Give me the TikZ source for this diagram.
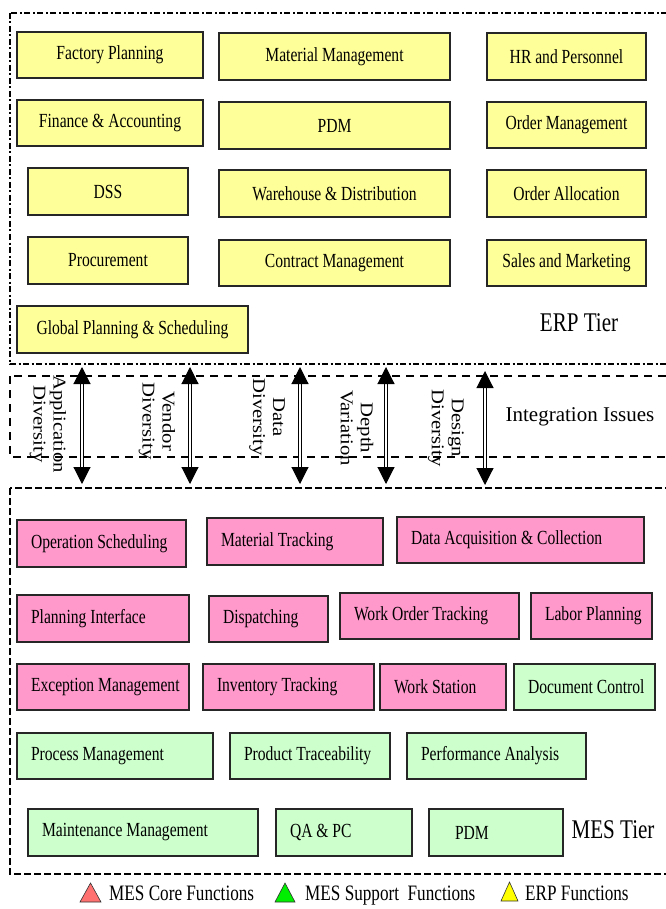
\documentclass[tikz,border=0pt]{standalone}
\usepackage{fontspec}
\setmainfont[FakeStretch=0.78]{Liberation Serif}
\newfontfamily\rotfont[FakeStretch=1.15]{Liberation Serif}
\newfontfamily\plainfont{Liberation Serif}
\usetikzlibrary{arrows.meta}
\definecolor{erpfill}{HTML}{FFFF99}
\definecolor{corefill}{HTML}{FF99CC}
\definecolor{supfill}{HTML}{CCFFCC}
\definecolor{redtri}{HTML}{FF7070}
\definecolor{greentri}{HTML}{00EE00}
\definecolor{yellowtri}{HTML}{FFFF00}
\tikzset{
  fbox/.style={draw=black!85, line width=1.2pt, inner sep=0pt, font=\fontsize{20}{24}\selectfont},
  erpbox/.style={fbox, fill=erpfill, align=center},
  corebox/.style={fbox, fill=corefill},
  supbox/.style={fbox, fill=supfill},
  erpframe/.style={line width=2.5pt, dash pattern=on 6pt off 2.5pt on 2pt off 2.5pt},
  intframe/.style={line width=2pt, dash pattern=on 8pt off 6pt},
  mesframe/.style={line width=2.5pt, dash pattern=on 7pt off 3pt},
  dblarrow/.style={double=white, double distance=2.5pt, line width=1.1pt,
     {Triangle[length=17pt,width=17pt]}-{Triangle[length=17pt,width=17pt]}},
  rotlabel/.style={rotate=-90, align=center, inner sep=0pt, font=\rotfont\fontsize{18}{20}\selectfont},
  tierlabel/.style={inner sep=0pt, font=\fontsize{27}{30}\selectfont},
  legendtext/.style={inner sep=0pt, anchor=base west, font=\fontsize{22}{26}\selectfont},
}
\newcommand\ebox[6]{%
  \node[erpbox, minimum width={(#4-#2)*1pt}, minimum height={(#5-#3)*1pt}] (#1) at ({(#2+#4)/2},{(#3+#5)/2}) {#6};}
\newcommand\mesbox[7]{%
  \pgfmathsetmacro\mytw{#5-#3-28}%
  \node[#1, inner xsep=14pt, inner ysep=0pt, minimum height={(#6-#4)*1pt}] (#2) at ({(#3+#5)/2},{(#4+#6)/2}) {\makebox[\mytw pt][l]{#7}};}
\begin{document}
\begin{tikzpicture}[x=1pt,y=-1pt]
\useasboundingbox (0,0) rectangle (665,909);
% frames
\draw[erpframe] (10,13) rectangle (670,364);
\draw[intframe] (10,376) rectangle (670,457);
\draw[mesframe] (10,488) rectangle (670,874);
% ERP boxes
\ebox{fp}{17}{32}{203}{78}{Factory Planning}
\ebox{mm}{219}{33}{450}{80}{Material Management}
\ebox{hr}{487}{33}{646}{80}{HR and Personnel}
\ebox{fa}{17}{100}{203}{146}{Finance \& Accounting}
\ebox{pdm}{219}{102}{450}{149}{PDM}
\ebox{om}{487}{102}{646}{148}{Order Management}
\ebox{dss}{28}{168}{188}{215}{DSS}
\ebox{wd}{219}{170}{450}{217}{Warehouse \& Distribution}
\ebox{oa}{487}{170}{646}{217}{Order Allocation}
\ebox{pr}{28}{237}{188}{284}{Procurement}
\ebox{cm}{219}{240}{450}{286}{Contract Management}
\ebox{sm}{487}{240}{646}{286}{Sales and Marketing}
\ebox{gp}{17}{306}{248}{353}{Global Planning \& Scheduling}
\node[tierlabel] (erptier) at (579,323) {ERP Tier};
% integration arrows
\foreach \i/\x/\t/\b in {1/82/367/484, 2/190/367/484, 3/300/367/484, 4/386/367/484, 5/485/371/485}{
  \coordinate (at\i) at (\x,\t);
  \coordinate (ab\i) at (\x,\b);
  \draw[dblarrow] (at\i) -- (ab\i);
}
\node[rotlabel] (l1) at (48,424) {Application\\Diversity};
\node[rotlabel] (l2) at (157,421) {Vendor\\Diversity};
\node[rotlabel] (l3) at (267,417) {Data\\Diversity};
\node[rotlabel] (l4) at (357,428) {Depth\\Variation};
\node[rotlabel] (l5) at (446,428) {Design\\Diversity};
\node[inner sep=0pt, font=\plainfont\fontsize{21}{24}\selectfont] (ii) at (580,417) {Integration Issues};
% MES boxes
\mesbox{corebox}{os}{17}{520}{186}{567}{Operation Scheduling}
\mesbox{corebox}{mt}{207}{518}{383}{565}{Material Tracking}
\mesbox{corebox}{da}{397}{517}{644}{563}{Data Acquisition \& Collection}
\mesbox{corebox}{pi}{17}{595}{189}{642}{Planning Interface}
\mesbox{corebox}{di}{209}{596}{328}{642}{Dispatching}
\mesbox{corebox}{wo}{340}{593}{519}{639}{Work Order Tracking}
\mesbox{corebox}{lp}{531}{593}{652}{639}{Labor Planning}
\mesbox{corebox}{em}{17}{664}{189}{710}{Exception Management}
\mesbox{corebox}{it}{203}{664}{374}{710}{Inventory Tracking}
\mesbox{corebox}{ws}{380}{664}{506}{710}{Work Station}
\mesbox{supbox}{dc}{514}{664}{655}{710}{Document Control}
\mesbox{supbox}{pm}{17}{733}{213}{779}{Process Management}
\mesbox{supbox}{pt}{230}{733}{390}{779}{Product Traceability}
\mesbox{supbox}{pa}{407}{733}{586}{779}{Performance Analysis}
\mesbox{supbox}{mm2}{28}{809}{258}{856}{Maintenance Management}
\mesbox{supbox}{qa}{276}{809}{412}{856}{QA \& PC}
\mesbox{supbox}{pdm2}{429}{809}{563}{856}{\hspace*{12pt}PDM}
\node[tierlabel] (mestier) at (613,830) {MES Tier};
% legend
\draw[black!80, line width=0.6pt, fill=redtri] (80,902) -- (101,902) -- (90.5,883) -- cycle;
\node[legendtext] (lg1) at (109,900) {MES Core Functions};
\draw[black!80, line width=0.6pt, fill=greentri] (275,902) -- (295,902) -- (285,883) -- cycle;
\node[legendtext] (lg2) at (305,900) {MES Support\ \ Functions};
\draw[black!80, line width=0.6pt, fill=yellowtri] (501,901) -- (518,901) -- (509.5,882) -- cycle;
\node[legendtext] (lg3) at (525,900) {ERP Functions};
\end{tikzpicture}
\end{document}
